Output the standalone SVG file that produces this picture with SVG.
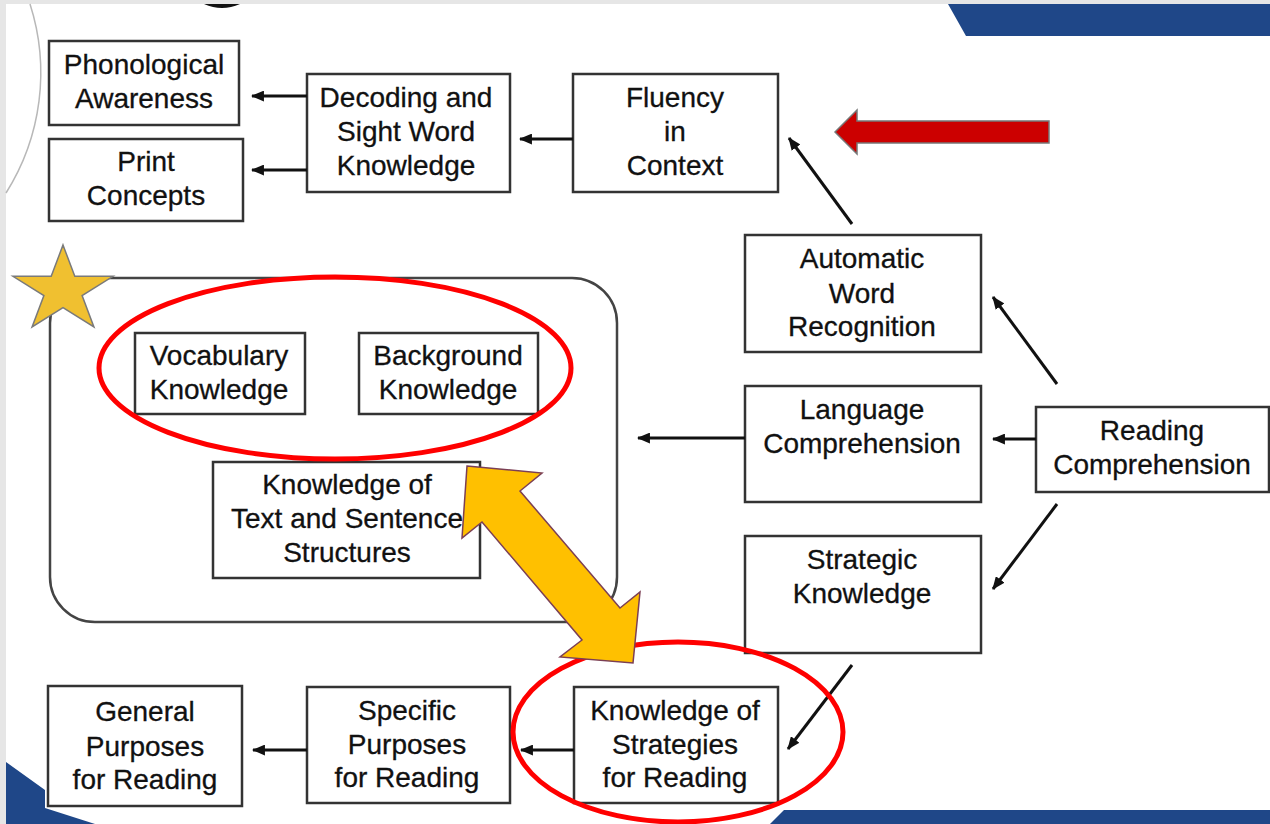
<svg xmlns="http://www.w3.org/2000/svg" width="1270" height="824" viewBox="0 0 1270 824">
<defs>
<style>
.box{fill:#fff;stroke:#333;stroke-width:2.5}
.t{font-family:"Liberation Sans",Arial,sans-serif;font-size:28px;fill:#111;text-anchor:middle;stroke:#111;stroke-width:0.3}
.c{stroke:#111;stroke-width:3;fill:none;marker-end:url(#ah)}
.ring{fill:none;stroke:#ff0000;stroke-width:5}
</style>
<marker id="ah" viewBox="0 0 12 10" refX="11" refY="5" markerWidth="13" markerHeight="11" markerUnits="userSpaceOnUse" orient="auto">
<path d="M0,0 L12,5 L0,10 z" fill="#111"/>
</marker>
</defs>
<rect x="0" y="0" width="1270" height="824" fill="#fff"/>
<rect x="0" y="0" width="1270" height="4" fill="#e6e6e6"/>
<rect x="0" y="0" width="6" height="824" fill="#e6e6e6"/>
<g id="decor">
<polygon points="948,4 1270,4 1270,36 966,36" fill="#1f4788"/>
<polygon points="784,810 1270,810 1270,824 770,824" fill="#1f4788"/>
<polygon points="6,762 45,790 45,808 95,824 6,824" fill="#1f4788"/>
<path d="M204,4 Q222,12 240,4 Z" fill="#111"/>
<path d="M30,4 A225,225 0 0 1 6,193" fill="none" stroke="#b8b8b8" stroke-width="1.5"/>
</g>
<g id="container">
<rect x="50" y="278" width="567" height="344" rx="45" ry="45" fill="none" stroke="#444" stroke-width="2.5"/>
</g>
<g id="phonological"><rect class="box" x="49" y="41" width="190" height="84"/><text class="t" x="144" y="74">Phonological</text><text class="t" x="144" y="108">Awareness</text></g>
<g id="print"><rect class="box" x="49" y="139" width="194" height="82"/><text class="t" x="146" y="171">Print</text><text class="t" x="146" y="205">Concepts</text></g>
<g id="decoding"><rect class="box" x="307" y="74" width="203" height="118"/><text class="t" x="406" y="107">Decoding and</text><text class="t" x="406" y="141">Sight Word</text><text class="t" x="406" y="175">Knowledge</text></g>
<g id="fluency"><rect class="box" x="573" y="74" width="205" height="118"/><text class="t" x="675" y="107">Fluency</text><text class="t" x="675" y="141">in</text><text class="t" x="675" y="175">Context</text></g>
<g id="automatic"><rect class="box" x="745" y="235" width="236" height="117"/><text class="t" x="862" y="268">Automatic</text><text class="t" x="862" y="303">Word</text><text class="t" x="862" y="336">Recognition</text></g>
<g id="language"><rect class="box" x="745" y="386" width="236" height="116"/><text class="t" x="862" y="419">Language</text><text class="t" x="862" y="453">Comprehension</text></g>
<g id="reading"><rect class="box" x="1036" y="407" width="233" height="85"/><text class="t" x="1152" y="440">Reading</text><text class="t" x="1152" y="474">Comprehension</text></g>
<g id="strategic"><rect class="box" x="745" y="536" width="236" height="117"/><text class="t" x="862" y="569">Strategic</text><text class="t" x="862" y="603">Knowledge</text></g>
<g id="vocabulary"><rect class="box" x="135" y="333" width="170" height="81"/><text class="t" x="219" y="365">Vocabulary</text><text class="t" x="219" y="399">Knowledge</text></g>
<g id="background"><rect class="box" x="359" y="333" width="179" height="81"/><text class="t" x="448" y="365">Background</text><text class="t" x="448" y="399">Knowledge</text></g>
<g id="textstructures"><rect class="box" x="213" y="462" width="267" height="116"/><text class="t" x="347" y="494">Knowledge of</text><text class="t" x="347" y="528">Text and Sentence</text><text class="t" x="347" y="562">Structures</text></g>
<g id="strategies"><rect class="box" x="574" y="687" width="204" height="116"/><text class="t" x="675" y="720">Knowledge of</text><text class="t" x="675" y="754">Strategies</text><text class="t" x="675" y="787">for Reading</text></g>
<g id="specific"><rect class="box" x="307" y="687" width="203" height="116"/><text class="t" x="407" y="720">Specific</text><text class="t" x="407" y="754">Purposes</text><text class="t" x="407" y="787">for Reading</text></g>
<g id="general"><rect class="box" x="48" y="686" width="194" height="120"/><text class="t" x="145" y="721">General</text><text class="t" x="145" y="756">Purposes</text><text class="t" x="145" y="789">for Reading</text></g>
<g id="connectors">
<path class="c" d="M307,96 L252,96"/>
<path class="c" d="M307,170 L252,170"/>
<path class="c" d="M573,139 L520,139"/>
<path class="c" d="M852,224 L789,138"/>
<path class="c" d="M1057,384 L993,297"/>
<path class="c" d="M1036,439 L993,439"/>
<path class="c" d="M1057,504 L993,589"/>
<path class="c" d="M745,438 L638,438"/>
<path class="c" d="M852,665 L788,749"/>
<path class="c" d="M574,750 L521,750"/>
<path class="c" d="M307,750 L253,750"/>
</g>
<g id="highlights">
<ellipse class="ring" cx="335" cy="368" rx="236" ry="91"/>
<ellipse class="ring" cx="678" cy="732" rx="165" ry="90"/>
<polygon id="star" points="63,245 74.8,276.3 113,276.3 82.1,295.6 93.9,326.9 63,307.6 32.1,326.9 43.9,295.6 13,276.3 51.2,276.3" fill="#f0c030" stroke="#7a7a7a" stroke-width="1.5"/>
<polygon id="yellowArrow" points="467,466 542,473 520,491 620,608 640,592 633,663 560,657 582,640 482,522 462,538" fill="#ffc000" stroke="#7b3f55" stroke-width="1.5"/>
<polygon id="redArrow" points="835,132 857,110 857,121 1049,121 1049,143 857,143 857,154" fill="#cc0000" stroke="#777" stroke-width="1.5"/>
</g>
</svg>
